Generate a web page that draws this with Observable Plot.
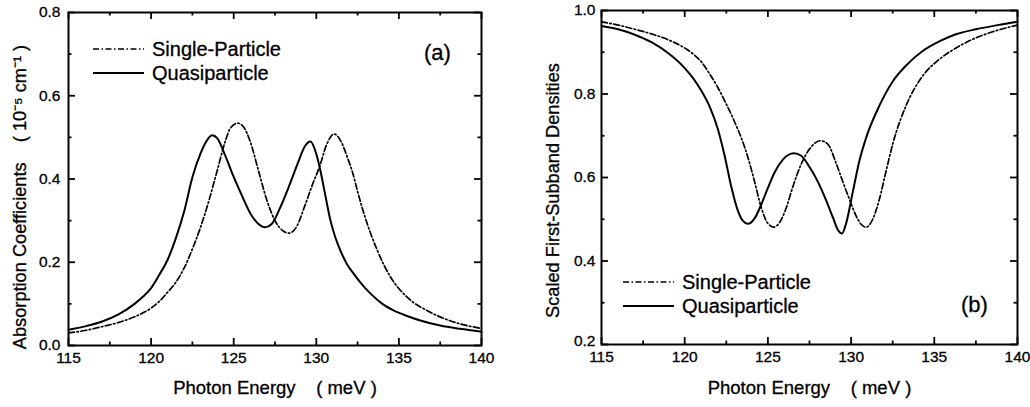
<!DOCTYPE html>
<html>
<head>
<meta charset="utf-8">
<script src="https://cdn.jsdelivr.net/npm/d3@7"></script>
<script src="https://cdn.jsdelivr.net/npm/@observablehq/plot@0.6"></script>
<style>
  body { margin: 0; background: #fff; }
  #wrap { position: relative; width: 1030px; height: 407px; overflow: hidden; background: #fff;
          font-family: "Liberation Sans", Arial, Helvetica, sans-serif; color: #000; }
  #wrap svg.plot { position: absolute; top: 0; }
  #wrap svg.plot text { stroke: #000; stroke-width: 0.3px; }
  .legend { position: absolute; }
  .row { display: flex; align-items: center; height: 24px; }
  .row svg { margin-right: 8px; }
  .row span { font-size: 20px; line-height: 24px; -webkit-text-stroke: 0.3px #000; }
  .tag { position: absolute; font-size: 22px; line-height: 24px; -webkit-text-stroke: 0.3px #000; }
</style>
</head>
<body>
<div id="wrap"></div>
<script>
// ---------- data ----------
// Panel (a): absorption coefficients (10^-5 cm^-1) vs photon energy (meV)
const energyA_QP = [115,116,117,118,119,119.5,120,120.5,121,121.5,122,122.5,123,123.4,123.7,124,124.5,125,125.5,126,126.5,126.9,127.3,127.8,128.4,128.9,129.3,129.65,130,130.25,130.55,130.86,131.15,131.46,131.85,132.27,132.8,133.3,134,134.7,135.5,136.3,137.5,138.7,140];
const absorbA_QP = [0.038,0.046,0.057,0.074,0.1,0.117,0.138,0.17,0.206,0.258,0.322,0.404,0.462,0.494,0.505,0.498,0.455,0.405,0.36,0.318,0.292,0.284,0.292,0.33,0.388,0.44,0.478,0.49,0.46,0.42,0.36,0.3,0.26,0.228,0.196,0.172,0.145,0.124,0.1,0.084,0.071,0.06,0.048,0.04,0.033];
const energyA_SP = [115,116,117,118,119,120,120.5,121,121.5,122,122.5,123,123.5,124,124.5,124.8,125.25,125.6,126,126.5,127,127.5,128,128.35,128.8,129.3,129.8,130.2,130.6,131.07,131.5,131.9,132.2,132.5,132.9,133.3,133.7,134.1,134.5,135.5,136.9,138.7,140];
const absorbA_SP = [0.030,0.036,0.045,0.055,0.069,0.09,0.106,0.128,0.152,0.186,0.232,0.285,0.348,0.42,0.492,0.522,0.534,0.525,0.49,0.42,0.35,0.3,0.275,0.27,0.285,0.335,0.39,0.43,0.48,0.508,0.49,0.45,0.415,0.37,0.315,0.268,0.228,0.193,0.164,0.116,0.08,0.052,0.041];

// Panel (b): scaled first-subband densities vs photon energy (meV)
const energyB_QP = [115,116,117,118,119,120,120.5,121,121.5,122,122.4,122.8,123.2,123.5,123.8,124.2,124.6,125,125.4,125.9,126.56,127,127.5,128,128.5,128.9,129.2,129.45,129.7,130.1,130.5,130.9,131.7,132.5,133.3,134.3,135.3,136.3,137.5,138.8,140];
const densB_QP   = [0.963,0.955,0.942,0.924,0.898,0.862,0.838,0.808,0.77,0.715,0.652,0.578,0.52,0.496,0.489,0.502,0.535,0.575,0.612,0.643,0.658,0.652,0.625,0.59,0.545,0.505,0.475,0.466,0.49,0.565,0.64,0.695,0.772,0.83,0.868,0.903,0.926,0.943,0.955,0.965,0.973];
const energyB_SP = [115,116,117,118,119,120,120.5,121,121.5,122,122.5,123,123.4,123.8,124.2,124.6,125,125.35,125.7,126.1,126.5,127,127.5,128.15,128.6,129.1,129.5,129.9,130.3,130.6,130.9,131.3,131.7,132.1,132.5,133.3,134.3,135.3,136.3,137.3,138.5,140];
const densB_SP   = [0.973,0.965,0.955,0.944,0.93,0.91,0.896,0.877,0.848,0.815,0.776,0.733,0.695,0.648,0.59,0.528,0.49,0.481,0.492,0.527,0.578,0.632,0.668,0.688,0.68,0.634,0.59,0.548,0.508,0.488,0.481,0.5,0.548,0.615,0.68,0.772,0.843,0.883,0.91,0.931,0.949,0.965];

// ticks and labels
const xMajor = [115,120,125,130,135,140];
const xMinor = [117.5,122.5,127.5,132.5,137.5];
const yMajorA = [0,0.2,0.4,0.6,0.8];
const yMinorA = [0.1,0.3,0.5,0.7];
const yMajorB = [0.2,0.4,0.6,0.8,1.0];
const yMinorB = [0.3,0.5,0.7,0.9];
const seriesNames = ["Single-Particle", "Quasiparticle"];
const xLabel = "Photon Energy\u00A0\u00A0\u00A0\u00A0( meV )";
const yLabelA = "Absorption Coefficients\u00A0\u00A0\u00A0\u00A0( 10\u207B\u2075 cm\u207B\u00B9 )";
const yLabelB = "Scaled First-Subband Densities";
const panelTags = ["(a)", "(b)"];

// ---------- drawing ----------
const rows = (xs, ys) => xs.map((e, i) => ({e, v: ys[i]}));
const DASHDOT = "6,2.5,1.5,2.5";
const FONT = "'Liberation Sans', Arial, Helvetica, sans-serif";

function panel({sp, qp, yDomain, yMajor, yMinor, width, mL, mR, mT, mB, yPad, yLowDy, yLabel, yLabelDx, yLabelDy, xLabelDy}) {
  const H = 407, iH = H - mT - mB, iW = width - mL - mR;
  const tk = {stroke: "#000", strokeWidth: 1.8};
  // inward ticks on all four sides
  const ticksX = (vals, len) => [
    Plot.tickX(vals, {x: d => d, insetTop: iH - len, ...tk}),
    Plot.tickX(vals, {x: d => d, insetBottom: iH - len, ...tk})
  ];
  const ticksY = (vals, len) => [
    Plot.tickY(vals, {y: d => d, insetRight: iW - len, ...tk}),
    Plot.tickY(vals, {y: d => d, insetLeft: iW - len, ...tk})
  ];
  const yLow = yMajor.slice(0, 1), yRest = yMajor.slice(1);
  return Plot.plot({
    width, height: H,
    marginLeft: mL, marginRight: mR, marginTop: mT, marginBottom: mB,
    x: {domain: [115, 140]},
    y: {domain: yDomain},
    style: {fontFamily: FONT, color: "#000", background: "transparent", overflow: "visible"},
    marks: [
      // tick labels
      Plot.axisX(xMajor, {anchor: "bottom", tickSize: 0, tickPadding: 6, fontSize: 15.5, label: null, tickFormat: d3.format("d")}),
      Plot.axisY(yRest, {anchor: "left", tickSize: 0, tickPadding: yPad, fontSize: 15.5, label: null, tickFormat: d3.format(".1f")}),
      Plot.axisY(yLow, {anchor: "left", tickSize: 0, tickPadding: yPad, fontSize: 15.5, label: null, dy: yLowDy, tickFormat: d3.format(".1f")}),
      // axis titles
      Plot.text([xLabel], {frameAnchor: "bottom", dy: xLabelDy, text: d => d, fontSize: 18.5, lineAnchor: "middle"}),
      Plot.text([yLabel], {frameAnchor: "left", rotate: -90, dx: yLabelDx, dy: yLabelDy, text: d => d, fontSize: 18.2, lineAnchor: "middle", textAnchor: "middle"}),
      // curves
      Plot.line(rows(sp[0], sp[1]), {x: "e", y: "v", stroke: "#000", strokeWidth: 1.7, strokeDasharray: DASHDOT, curve: "monotone-x"}),
      Plot.line(rows(qp[0], qp[1]), {x: "e", y: "v", stroke: "#000", strokeWidth: 2, curve: "monotone-x"}),
      Plot.frame({stroke: "#000", strokeWidth: 2}),
      ...ticksX(xMajor, 7), ...ticksX(xMinor, 3.5),
      ...ticksY(yMajor, 7), ...ticksY(yMinor, 3.5)
    ]
  });
}

const wrap = document.getElementById("wrap");

const svgA = panel({
  sp: [energyA_SP, absorbA_SP], qp: [energyA_QP, absorbA_QP],
  yDomain: [0, 0.8], yMajor: yMajorA, yMinor: yMinorA,
  width: 510, mL: 68, mR: 29, mT: 12, mB: 62, yPad: 8, yLowDy: 0,
  yLabel: yLabelA, yLabelDx: -48, yLabelDy: 18, xLabelDy: 43
});
svgA.classList.add("plot");
svgA.style.left = "0px";
wrap.appendChild(svgA);

const svgB = panel({
  sp: [energyB_SP, densB_SP], qp: [energyB_QP, densB_QP],
  yDomain: [0.2, 1.0], yMajor: yMajorB, yMinor: yMinorB,
  width: 520, mL: 91, mR: 13, mT: 10, mB: 63, yPad: 6, yLowDy: -3,
  yLabel: yLabelB, yLabelDx: -48, yLabelDy: 13, xLabelDy: 44
});
svgB.classList.add("plot");
svgB.style.left = "510px";
wrap.appendChild(svgB);

// legends and panel tags (HTML overlays)
function legend(left, top) {
  const div = document.createElement("div");
  div.className = "legend";
  div.style.left = left + "px";
  div.style.top = top + "px";
  seriesNames.forEach((name, i) => {
    const row = document.createElement("div");
    row.className = "row";
    const dash = i === 0 ? `stroke-dasharray="${DASHDOT}" stroke-width="1.7"` : `stroke-width="2"`;
    row.innerHTML = `<svg width="51" height="6"><line x1="0" x2="51" y1="3" y2="3" stroke="#000" ${dash}/></svg><span>${name}</span>`;
    div.appendChild(row);
  });
  wrap.appendChild(div);
}
function tag(text, left, top) {
  const d = document.createElement("div");
  d.className = "tag";
  d.style.left = left + "px";
  d.style.top = top + "px";
  d.textContent = text;
  wrap.appendChild(d);
}
legend(93, 37);
legend(623, 270);
tag(panelTags[0], 424, 41);
tag(panelTags[1], 961, 293);
</script>
</body>
</html>
